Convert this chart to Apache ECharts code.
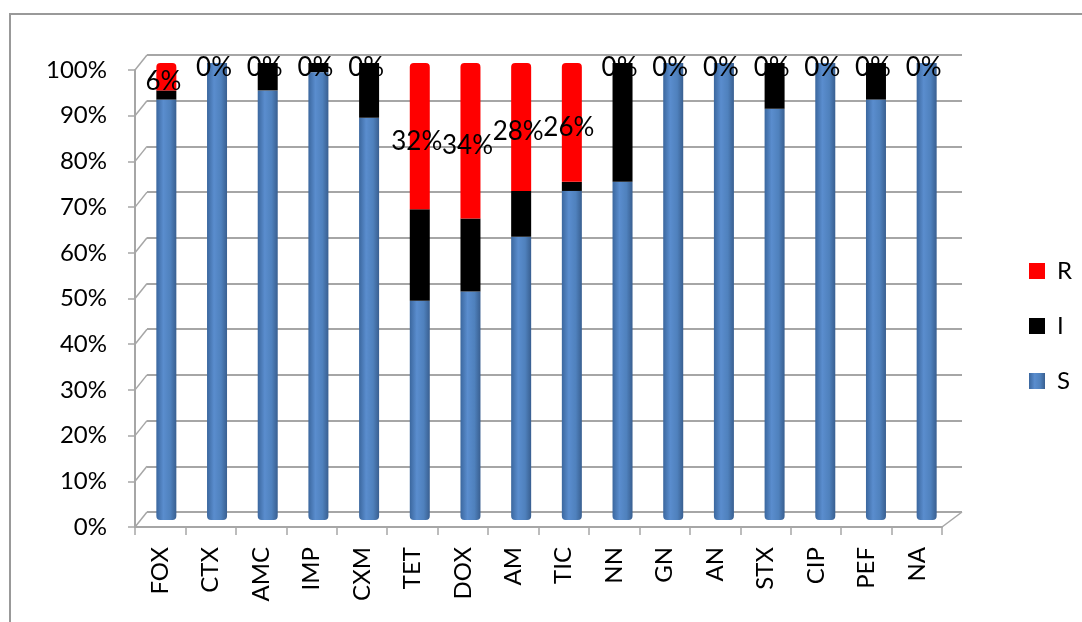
<!DOCTYPE html>
<html>
<head>
<meta charset="utf-8">
<title>S / I / R</title>
<script src="https://cdn.jsdelivr.net/npm/echarts@6/dist/echarts.min.js"></script>
<style>
  html, body { margin: 0; padding: 0; background: #ffffff; }
  #chart { width: 1082px; height: 622px; }
</style>
</head>
<body>
<div id="chart"></div>
<script>
// Categories and the share of each outcome (percent of isolates)
const categories = ['FOX', 'CTX', 'AMC', 'IMP', 'CXM', 'TET', 'DOX', 'AM', 'TIC', 'NN', 'GN', 'AN', 'STX', 'CIP', 'PEF', 'NA'];
const valuesS = [92, 100, 94, 98, 88, 48, 50, 62, 72, 74, 100, 100, 90, 100, 92, 100];
const valuesI = [2, 0, 6, 2, 12, 20, 16, 10, 2, 26, 0, 0, 10, 0, 8, 0];
const valuesR = [6, 0, 0, 0, 0, 32, 34, 28, 26, 0, 0, 0, 0, 0, 0, 0];
const percentTicks = [0, 10, 20, 30, 40, 50, 60, 70, 80, 90, 100];

const FONT = 'Lato, "Open Sans", sans-serif';
const GRID_GRAY = '#a6a6a6';

const chart = echarts.init(document.getElementById('chart'), null, { renderer: 'canvas' });

// Cylinder-like shading for the blue columns
const blueFill = new echarts.graphic.LinearGradient(0, 0, 1, 0, [
  { offset: 0, color: '#3b679e' },
  { offset: 0.35, color: '#5a8dce' },
  { offset: 0.7, color: '#4f81bd' },
  { offset: 1, color: '#395f90' }
]);

const hiddenAxis = { show: false };

const option = {
  backgroundColor: '#ffffff',
  animation: false,
  textStyle: { fontFamily: FONT },
  grid: [
    // back wall (gridlines)
    { left: 147, right: 120, top: 55, bottom: 110 },
    // columns (mid depth)
    { left: 141, right: 130, top: 63, bottom: 102 },
    // front axes
    { left: 135, right: 140, top: 70, bottom: 95 }
  ],
  xAxis: [
    { type: 'category', gridIndex: 0, data: categories, ...hiddenAxis },
    { type: 'category', gridIndex: 1, data: categories, ...hiddenAxis },
    {
      type: 'category', gridIndex: 2, data: categories,
      axisLine: { show: true, lineStyle: { color: GRID_GRAY, width: 2 } },
      axisTick: { show: true, alignWithLabel: false, length: 8, lineStyle: { color: GRID_GRAY, width: 1.5 } },
      axisLabel: { rotate: 90, margin: 20, color: '#000', fontSize: 24, fontFamily: FONT },
      splitLine: { show: false }
    }
  ],
  yAxis: [
    {
      type: 'value', gridIndex: 0, min: 0, max: 100, interval: 10,
      axisLine: { show: false }, axisTick: { show: false }, axisLabel: { show: false },
      splitLine: { show: true, lineStyle: { color: GRID_GRAY, width: 2 } }
    },
    { type: 'value', gridIndex: 1, min: 0, max: 100, interval: 10, ...hiddenAxis },
    {
      type: 'value', gridIndex: 2, min: 0, max: 100, interval: 10,
      axisLine: { show: true, lineStyle: { color: GRID_GRAY, width: 2 } },
      axisTick: { show: true, length: 7, lineStyle: { color: GRID_GRAY, width: 1.5 } },
      axisLabel: {
        margin: 28, color: '#000', fontSize: 24, fontFamily: FONT,
        formatter: function (v) { return percentTicks.indexOf(v) >= 0 ? v + '%' : ''; }
      },
      splitLine: { show: false }
    }
  ],
  legend: {
    orient: 'vertical',
    left: 1024,
    top: 254,
    data: ['R', 'I', 'S'],
    selectedMode: false,
    icon: 'rect',
    itemWidth: 16,
    itemHeight: 16,
    itemGap: 31,
    textStyle: { fontSize: 24, lineHeight: 24, color: '#000', fontFamily: FONT, padding: [0, 0, 0, 7] }
  },
  series: [
    {
      name: 'S', type: 'bar', stack: 'total', xAxisIndex: 1, yAxisIndex: 1,
      barWidth: 20, data: valuesS,
      itemStyle: { color: blueFill, borderRadius: [0, 0, 4, 4] }
    },
    {
      name: 'I', type: 'bar', stack: 'total', xAxisIndex: 1, yAxisIndex: 1,
      barWidth: 20, data: valuesI,
      itemStyle: { color: '#000000' }
    },
    {
      name: 'R', type: 'bar', stack: 'total', xAxisIndex: 1, yAxisIndex: 1,
      barWidth: 20, data: valuesR,
      itemStyle: { color: '#ff0000', borderRadius: [4, 4, 0, 0] },
      label: {
        show: true, position: 'inside', offset: [-3, 5],
        formatter: '{c}%', color: '#000', fontSize: 26, fontFamily: FONT
      }
    }
  ],
  graphic: []
};

chart.setOption(option);

// Wall edges: join each front tick to its back gridline, plus the floor's right edge
function gridRect(i) {
  return chart.getModel().getComponent('grid', i).coordinateSystem.getRect();
}
const back = gridRect(0);
const front = gridRect(2);
const edges = [];
percentTicks.forEach(function (v) {
  const yf = chart.convertToPixel({ yAxisIndex: 2 }, v);
  const yb = chart.convertToPixel({ yAxisIndex: 0 }, v);
  edges.push({
    type: 'line', silent: true,
    shape: { x1: front.x, y1: yf, x2: back.x, y2: yb },
    style: { stroke: GRID_GRAY, lineWidth: 1.5 }
  });
});
const yf0 = chart.convertToPixel({ yAxisIndex: 2 }, 0);
const yb0 = chart.convertToPixel({ yAxisIndex: 0 }, 0);
edges.push({
  type: 'line', silent: true,
  shape: { x1: front.x + front.width, y1: yf0, x2: back.x + back.width, y2: yb0 },
  style: { stroke: GRID_GRAY, lineWidth: 1.5 }
});
// chart area frame
edges.push({
  type: 'rect', silent: true, z: -1,
  shape: { x: 10, y: 14, width: 1100, height: 700 },
  style: { fill: null, stroke: '#999999', lineWidth: 2 }
});
chart.setOption({ graphic: edges });
</script>
</body>
</html>
